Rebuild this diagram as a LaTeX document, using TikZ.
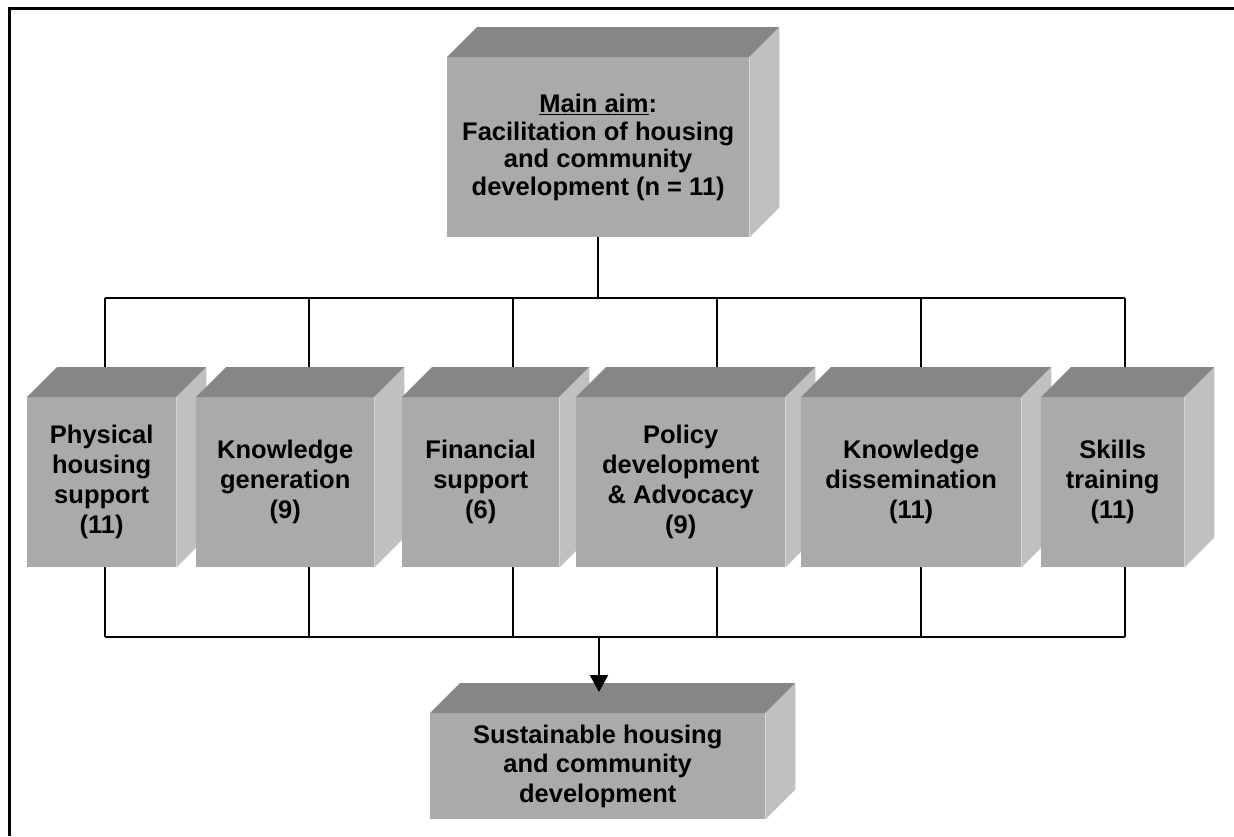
\documentclass[tikz,border=0pt]{standalone}
\usepackage{fontspec}
\setmainfont{Liberation Sans}[BoldFont={Liberation Sans Bold}]
\usepackage{tikz}
\usetikzlibrary{arrows.meta,backgrounds}

\definecolor{frontgray}{RGB}{170,170,170}
\definecolor{topgray}{RGB}{134,134,134}
\definecolor{sidegray}{RGB}{192,192,192}

\tikzset{
  cube/.style={rectangle, fill=frontgray, anchor=north west, inner sep=0pt, align=center,
    minimum height=170pt, font=\bfseries\fontsize{25.5pt}{30pt}\selectfont},
  link/.style={line width=2.4pt},
}
\newcommand{\cubefaces}[1]{%
  \fill[topgray] (#1.north west) -- ++(30,-30) -- ([shift={(30,-30)}]#1.north east) -- (#1.north east) -- cycle;
  \fill[sidegray] (#1.north east) -- ([shift={(30,-30)}]#1.north east) -- ([shift={(30,-30)}]#1.south east) -- (#1.south east) -- cycle;
}

\begin{document}
\begin{tikzpicture}[x=1pt, y=-1pt]
\useasboundingbox (0,0) rectangle (1234,836);
\draw[line width=3pt] (1234,8.5) -- (9.5,8.5) -- (9.5,836);

% main aim
\node[cube, minimum width=302pt, minimum height=180pt, font=\bfseries\fontsize{25.5pt}{27.5pt}\selectfont] (aim) at (447,57)
  {\underline{Main aim}:\\Facilitation of housing\\and community\\development (n = 11)};
\cubefaces{aim}

% activities
\node[cube, minimum width=149pt] (phys) at (27,397) {Physical\\housing\\support\\(11)};
\cubefaces{phys}
\node[cube, minimum width=178pt] (kgen) at (196,397) {Knowledge\\generation\\(9)};
\cubefaces{kgen}
\node[cube, minimum width=157pt] (fin) at (402,397) {Financial\\support\\(6)};
\cubefaces{fin}
\node[cube, minimum width=209pt] (pol) at (576,397) {Policy\\development\\\& Advocacy\\(9)};
\cubefaces{pol}
\node[cube, minimum width=220pt] (kdis) at (801,397) {Knowledge\\dissemination\\(11)};
\cubefaces{kdis}
\node[cube, minimum width=143pt] (skill) at (1041,397) {Skills\\training\\(11)};
\cubefaces{skill}

% outcome
\node[cube, minimum width=335pt, minimum height=106pt, font=\bfseries\fontsize{25.5pt}{29.5pt}\selectfont] (sust) at (430,713)
  {Sustainable housing\\and community\\development};
\cubefaces{sust}

% connectors
\coordinate (topL) at (105,298);
\coordinate (topR) at (1125,298);
\coordinate (botL) at (105,637);
\coordinate (botR) at (1125,637);
\coordinate (busbot) at (599,637);
\coordinate (tip) at ([yshift=21pt]sust.north);
\begin{scope}[on background layer]
  \draw[link] (aim.south) -- (aim.south |- topL);
  \draw[link] (topL) -- (topR);
  \draw[link] (botL) -- (botR);
  \foreach \n/\x in {phys/105, kgen/309, fin/513, pol/717, kdis/921, skill/1125} {
    \coordinate (tap\n) at (\x,298);
    \draw[link] (tap\n) -- (tap\n |- \n.north);
    \draw[link] (tap\n |- \n.south) -- (tap\n |- botL);
  }
\end{scope}
\draw[link, -{Triangle[width=18pt,length=17pt]}] (busbot) -- (busbot |- tip);
\end{tikzpicture}
\end{document}
